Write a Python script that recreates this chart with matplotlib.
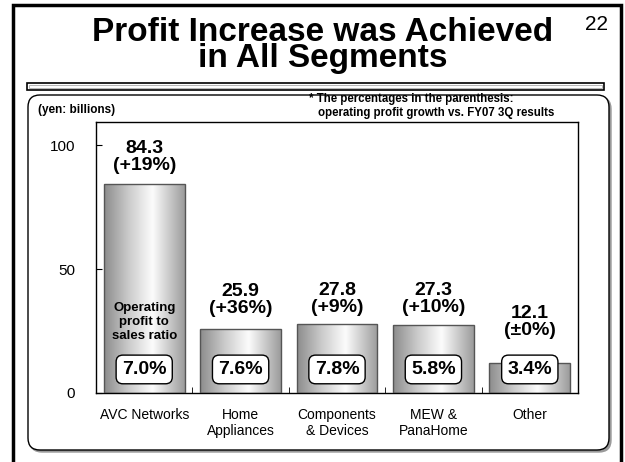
import numpy as np
import matplotlib
matplotlib.use("Agg")
import matplotlib.pyplot as plt
from matplotlib.colors import LinearSegmentedColormap
from matplotlib.patches import Rectangle, FancyBboxPatch

plt.rcParams['font.family'] = ['Liberation Sans', 'DejaVu Sans']

categories = ["AVC Networks", "Home\nAppliances", "Components\n& Devices", "MEW &\nPanaHome", "Other"]
profit = [84.3, 25.9, 27.8, 27.3, 12.1]
growth = ["+19%", "+36%", "+9%", "+10%", "\u00b10%"]
margin = ["7.0%", "7.6%", "7.8%", "5.8%", "3.4%"]
label_gap = [10, 12, 8, 9, 24]   # pixels between bar top and its value label

fig = plt.figure(figsize=(6.25, 4.62), dpi=100)

# background layer in pixel coords (y down) for the slide decorations
bg = fig.add_axes([0, 0, 1, 1], zorder=0)
bg.set_xlim(0, 625)
bg.set_ylim(462, 0)
bg.axis('off')

# outer black frame
bg.plot([13, 13, 621, 621], [470, 5, 5, 470], color='black', lw=2.5, solid_joinstyle='miter')

# bar under the title
bg.add_patch(Rectangle((27, 83), 577, 7, facecolor='white', edgecolor='black', lw=1.2))
bg.add_patch(Rectangle((29, 85), 573, 3, facecolor='white', edgecolor='#999999', lw=0.5))

# rounded panel with thin shadow
bg.add_patch(FancyBboxPatch((30, 97), 581, 355, boxstyle="round,pad=0,rounding_size=12",
                            facecolor='#9a9a9a', edgecolor='#9a9a9a', lw=1))
bg.add_patch(FancyBboxPatch((28, 95), 581, 355, boxstyle="round,pad=0,rounding_size=12",
                            facecolor='white', edgecolor='black', lw=1))

bg.text(323, 17, "Profit Increase was Achieved\nin All Segments", ha='center', va='top',
        fontsize=24, fontweight='bold', linespacing=0.8)
bg.text(597, 30, "22", ha='center', va='baseline', fontsize=15)

bg.text(38, 113, "(yen: billions)", ha='left', va='baseline', fontsize=8.5, fontweight='bold')
bg.text(309, 102, "* The percentages in the parenthesis:", ha='left', va='baseline',
        fontsize=8.3, fontweight='bold')
bg.text(318, 116, "operating profit growth vs. FY07 3Q results", ha='left', va='baseline',
        fontsize=8.3, fontweight='bold')

# main chart
ax = fig.add_axes([96 / 625, 1 - 393 / 462, 482 / 625, 271 / 462], zorder=1)
ax.set_facecolor('white')
x = np.arange(len(categories))
bars = ax.bar(x, profit, width=0.84, facecolor='none', edgecolor='#555555', lw=1, zorder=3)

cmap = LinearSegmentedColormap.from_list(
    "cyl", [(0, '#8c8c8c'), (0.3, '#cacaca'), (0.6, '#fcfcfc'), (1, '#9c9c9c')])
grad = np.linspace(0, 1, 256).reshape(1, -1)
for b in bars:
    x0, w, h = b.get_x(), b.get_width(), b.get_height()
    im = ax.imshow(grad, extent=[x0, x0 + w, 0, h], aspect='auto', cmap=cmap,
                   zorder=2, interpolation='bicubic')
    im.set_clip_path(b)

ax.set_xlim(-0.5, len(categories) - 0.5)
ax.set_ylim(0, 109.3)

for i, b in enumerate(bars):
    ax.annotate(f"{profit[i]:.1f}\n({growth[i]})", (b.get_x() + b.get_width() / 2, profit[i]),
                xytext=(0, label_gap[i]), textcoords='offset pixels', ha='center', va='bottom',
                fontsize=14, fontweight='bold', linespacing=1.0, zorder=5)
    ax.text(x[i], 9.5, margin[i], ha='center', va='center', fontsize=14, fontweight='bold',
            zorder=5, bbox=dict(boxstyle="round,pad=0.3,rounding_size=0.35",
                                facecolor='white', edgecolor='black', lw=1))

ax.text(x[0], 28.6, "Operating\nprofit to\nsales ratio", ha='center', va='center',
        fontsize=9.5, fontweight='bold', linespacing=1.25, zorder=5)

ax.set_yticks([0, 50, 100])
ax.tick_params(axis='y', direction='in', length=4, pad=15, labelsize=11)
ax.set_xticks(x)
ax.set_xticklabels(categories)
ax.tick_params(axis='x', which='major', length=0, pad=11, labelsize=10)
ax.set_xticks(x[:-1] + 0.5, minor=True)
ax.tick_params(axis='x', which='minor', direction='in', length=4)
for s in ax.spines.values():
    s.set_linewidth(1)
    s.set_color('black')

fig.savefig("out.png", dpi=100)
